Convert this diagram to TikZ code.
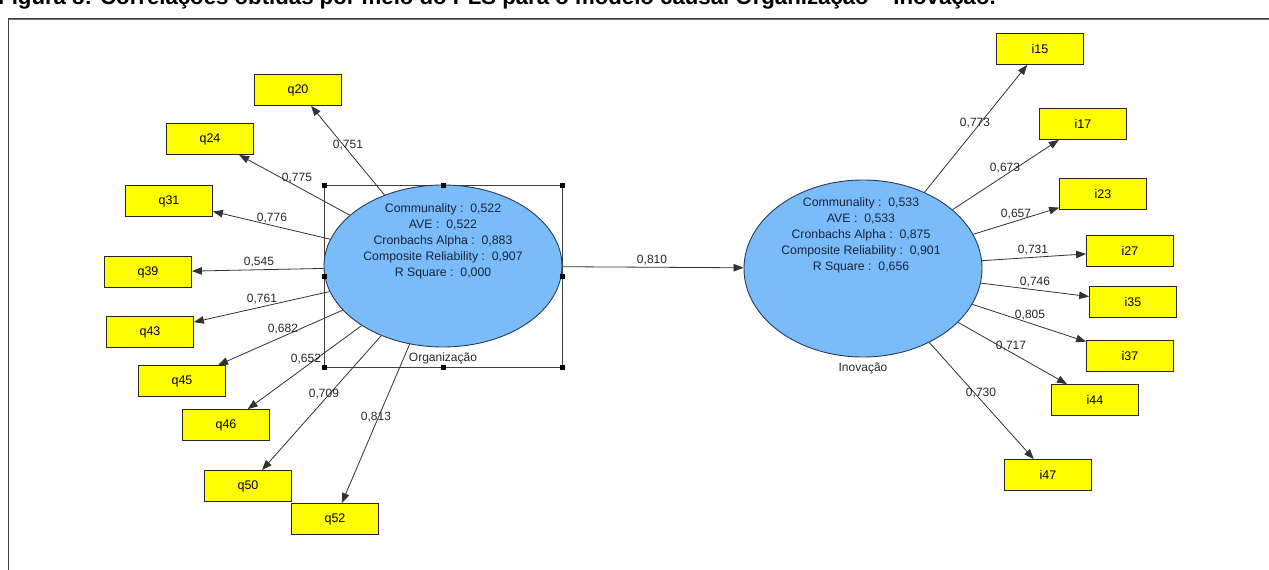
\documentclass[tikz,border=0pt]{standalone}
\usepackage{fontspec}
\setmainfont{Liberation Sans}
\usetikzlibrary{shapes.geometric,arrows.meta}
\definecolor{boxyellow}{RGB}{255,255,0}
\definecolor{lvblue}{RGB}{122,188,250}
\definecolor{lvborder}{RGB}{40,60,90}
\definecolor{edgegray}{RGB}{50,50,50}
\definecolor{stattext}{RGB}{25,35,60}
\begin{document}
\begin{tikzpicture}[x=1pt,y=-1pt,
  ind/.style={draw=black!85, line width=0.8pt, fill=boxyellow, minimum width=87pt, minimum height=31pt, inner sep=0pt, font=\fontsize{12.5}{14}\selectfont},
  lv/.style={ellipse, draw=lvborder, line width=0.9pt, fill=lvblue, inner sep=0pt},
  load/.style={draw=edgegray, line width=0.8pt, -{Triangle[length=10pt,width=7.5pt]}},
  lab/.style={font=\fontsize{12}{14}\selectfont, inner sep=0pt, text=black!85},
  stat/.style={font=\fontsize{12.3}{16}\selectfont, align=center, inner sep=0pt, text=stattext},
  handle/.style={fill=black, minimum size=5pt, inner sep=0pt}]
\useasboundingbox (0,0) rectangle (1269,570);
\clip (0,0) rectangle (1269,570);
\fill[white] (0,0) rectangle (1269,570);
% title and frame
\node[anchor=base west, inner sep=0pt, font=\bfseries\fontsize{22.2}{24}\selectfont] (title) at (-2,5) {Figura 8: Correlações obtidas por meio do PLS para o modelo causal Organização – Inovação.};
\draw[draw=black!75, line width=1pt] (8,580) -- (8,18) -- (1280,18);
\draw[draw=black!55, line width=0.8pt] (9,19.3) -- (1280,19.3);
% selection rectangle
\draw[draw=black!75, line width=0.8pt] (324,185) rectangle (562,367);
% latent variables
\node[lv, minimum width=238pt, minimum height=162pt] (org) at (443,266) {};
\node[lv, minimum width=238pt, minimum height=177pt] (inov) at (863,268.5) {};
\node[stat] (orgstat) at (443,241) {Communality :\ \ 0,522\\AVE :\ \ 0,522\\Cronbachs Alpha :\ \ 0,883\\Composite Reliability :\ \ 0,907\\R Square :\ \ 0,000};
\node[stat] (inovstat) at (861,235) {Communality :\ \ 0,533\\AVE :\ \ 0,533\\Cronbachs Alpha :\ \ 0,875\\Composite Reliability :\ \ 0,901\\R Square :\ \ 0,656};
\node[lab] (orgname) at (443,358) {Organização};
\node[lab] (inovname) at (863,368) {Inovação};
% handles
\foreach \hx/\hy [count=\i] in {324/185,443/185,562/185,324/276,562/276,324/367,443/367,562/367}
  \node[handle] (h\i) at (\hx,\hy) {};
% indicators left
\node[ind] (q20) at (298,90) {q20};
\node[ind] (q24) at (210,139) {q24};
\node[ind] (q31) at (169,201) {q31};
\node[ind] (q39) at (148,272) {q39};
\node[ind] (q43) at (150,332) {q43};
\node[ind] (q45) at (182,381) {q45};
\node[ind] (q46) at (226,425) {q46};
\node[ind] (q50) at (248,486) {q50};
\node[ind] (q52) at (335,519) {q52};
% indicators right
\node[ind] (i15) at (1040,49) {i15};
\node[ind] (i17) at (1083,124) {i17};
\node[ind] (i23) at (1103,194) {i23};
\node[ind] (i27) at (1130,251) {i27};
\node[ind] (i35) at (1133,302) {i35};
\node[ind] (i37) at (1130,356) {i37};
\node[ind] (i44) at (1095,400) {i44};
\node[ind] (i47) at (1048,475) {i47};
% connectors
\foreach \t in {q20,q24,q31,q39,q43,q45,q46,q50,q52}
  \draw[load] (org) -- (\t);
\foreach \t in {i15,i17,i23,i27,i35,i37,i44,i47}
  \draw[load] (inov) -- (\t);
\draw[load] (org) -- (inov);
% loading labels
\node[lab] (l20) at (348,145) {0,751};
\node[lab] (l24) at (297,178) {0,775};
\node[lab] (l31) at (272,218) {0,776};
\node[lab] (l39) at (259,262) {0,545};
\node[lab] (l43) at (262,299) {0,761};
\node[lab] (l45) at (283,329) {0,682};
\node[lab] (l46) at (306,359) {0,652};
\node[lab] (l50) at (324,394) {0,709};
\node[lab] (l52) at (376,417) {0,813};
\node[lab] (l15) at (975,123) {0,773};
\node[lab] (l17) at (1005,168) {0,673};
\node[lab] (l23) at (1016,214) {0,657};
\node[lab] (l27) at (1033,250) {0,731};
\node[lab] (l35) at (1035,282) {0,746};
\node[lab] (l37) at (1030,315) {0,805};
\node[lab] (l44) at (1011,346) {0,717};
\node[lab] (l47) at (981,393) {0,730};
\node[lab] (lpath) at (652,260) {0,810};
\end{tikzpicture}
\end{document}
